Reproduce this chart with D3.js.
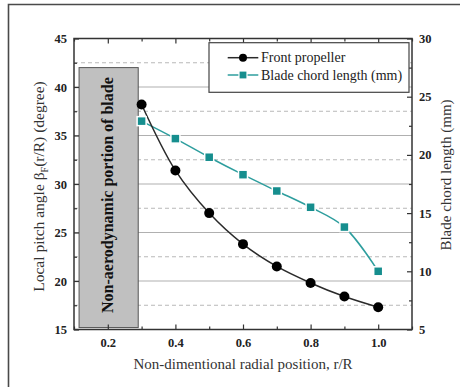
<!DOCTYPE html>
<html>
<head>
<meta charset="utf-8">
<script src="https://cdn.jsdelivr.net/npm/d3@7/dist/d3.min.js"></script>
<style>
  html, body { margin: 0; padding: 0; background: #fff; }
  svg { display: block; }
  text { font-family: "Liberation Serif", "Times New Roman", serif; }
</style>
</head>
<body>
<svg id="chart" width="461" height="387"></svg>
<script>
// Radial stations r/R
const radialPos = [0.3, 0.4, 0.5, 0.6, 0.7, 0.8, 0.9, 1.0];
// Local pitch angle of the front propeller (degree), left axis
const pitchAngle = [38.2, 31.4, 27.0, 23.8, 21.5, 19.8, 18.4, 17.3];
// Blade chord length (mm), right axis
const chordLength = [22.9, 21.4, 19.8, 18.3, 16.9, 15.5, 13.8, 10.0];

const xTicks = [0.2, 0.4, 0.6, 0.8, 1.0];
const leftTicks = [15, 20, 25, 30, 35, 40, 45];
const rightTicks = [5, 10, 15, 20, 25, 30];
// Hub region that carries no aerodynamic section
const hubRegion = { x0: 0.115, x1: 0.29, y0: 15.2, y1: 42.0 };

const seriesNames = ["Front propeller", "Blade chord length (mm)"];

const svg = d3.select("#chart");
const L = 74, R = 412, T = 38.5, B = 329.5;

const x = d3.scaleLinear().domain([0.1, 1.1]).range([L, R]);
const yL = d3.scaleLinear().domain([15, 45]).range([B, T]);
const yR = d3.scaleLinear().domain([5, 30]).range([B, T]);

const teal = "#2e9e9e";
const tealMark = "#168e8e";

// outer page frame
svg.append("path")
  .attr("d", "M8.5,392 V4.5 H460")
  .attr("fill", "none").attr("stroke", "#4a4a4a").attr("stroke-width", 1.6);

// grid: solid at major, dashed at minor left-axis values
const g = svg.append("g");
d3.range(20, 45, 5).forEach(v => {
  g.append("line").attr("x1", L).attr("x2", R).attr("y1", yL(v)).attr("y2", yL(v))
    .attr("stroke", "#b0b0b0").attr("stroke-width", 1.1);
});
d3.range(17.5, 45, 5).forEach(v => {
  g.append("line").attr("x1", L).attr("x2", R).attr("y1", yL(v)).attr("y2", yL(v))
    .attr("stroke", "#b8b8b8").attr("stroke-width", 1).attr("stroke-dasharray", "4,3");
});

// hub region box
svg.append("rect")
  .attr("x", x(hubRegion.x0)).attr("y", yL(hubRegion.y1))
  .attr("width", x(hubRegion.x1) - x(hubRegion.x0))
  .attr("height", yL(hubRegion.y0) - yL(hubRegion.y1))
  .attr("fill", "#c0c0c0").attr("stroke", "#555").attr("stroke-width", 1);
svg.append("text")
  .attr("transform", `translate(${(x(hubRegion.x0) + x(hubRegion.x1)) / 2 + 4},${(yL(hubRegion.y0) + yL(hubRegion.y1)) / 2 - 2.5}) rotate(-90)`)
  .attr("text-anchor", "middle")
  .attr("font-weight", "bold").attr("font-size", "16px").attr("fill", "#111")
  .text("Non-aerodynamic portion of blade");

// axes with inward ticks
function styleAxis(sel) {
  sel.select(".domain").remove();
  sel.selectAll("line").attr("stroke", "#333").attr("stroke-width", 1.2);
  sel.selectAll("text").attr("font-weight", "bold").attr("font-size", "12.5px").attr("fill", "#222")
    .attr("font-family", "'Liberation Serif', serif");
}
const xMinor = d3.range(0.1, 1.11, 0.1).map(v => +v.toFixed(1));
const xMinorOnly = xMinor.filter(v => !xTicks.some(t => Math.abs(t - v) < 1e-9));

svg.append("g").attr("transform", `translate(0,${B})`)
  .call(d3.axisBottom(x).tickValues(xTicks).tickFormat(d3.format(".1f")).tickSizeInner(-5).tickSizeOuter(0).tickPadding(9))
  .call(styleAxis);
svg.append("g").attr("transform", `translate(0,${B})`)
  .call(d3.axisBottom(x).tickValues(xMinorOnly).tickFormat("").tickSizeInner(-3).tickSizeOuter(0))
  .call(styleAxis);
svg.append("g").attr("transform", `translate(0,${T})`)
  .call(d3.axisTop(x).tickValues(xTicks).tickFormat("").tickSizeInner(-5).tickSizeOuter(0))
  .call(styleAxis);
svg.append("g").attr("transform", `translate(0,${T})`)
  .call(d3.axisTop(x).tickValues(xMinorOnly).tickFormat("").tickSizeInner(-3).tickSizeOuter(0))
  .call(styleAxis);

svg.append("g").attr("transform", `translate(${L},0)`)
  .call(d3.axisLeft(yL).tickValues(leftTicks).tickSizeInner(-5).tickSizeOuter(0).tickPadding(7))
  .call(styleAxis);
svg.append("g").attr("transform", `translate(${L},0)`)
  .call(d3.axisLeft(yL).tickValues(d3.range(17.5, 45, 5)).tickFormat("").tickSizeInner(-3).tickSizeOuter(0))
  .call(styleAxis);
svg.append("g").attr("transform", `translate(${R},0)`)
  .call(d3.axisRight(yR).tickValues(rightTicks).tickSizeInner(-5).tickSizeOuter(0).tickPadding(7))
  .call(styleAxis);
svg.append("g").attr("transform", `translate(${R},0)`)
  .call(d3.axisRight(yR).tickValues(d3.range(7.5, 30, 5)).tickFormat("").tickSizeInner(-3).tickSizeOuter(0))
  .call(styleAxis);

// plot frame
svg.append("rect").attr("x", L).attr("y", T).attr("width", R - L).attr("height", B - T)
  .attr("fill", "none").attr("stroke", "#333").attr("stroke-width", 1.5);

// series
const pitchData = radialPos.map((r, i) => [r, pitchAngle[i]]);
const chordData = radialPos.map((r, i) => [r, chordLength[i]]);

svg.append("path").datum(chordData)
  .attr("d", d3.line().x(d => x(d[0])).y(d => yR(d[1])).curve(d3.curveCatmullRom.alpha(0.5)))
  .attr("fill", "none").attr("stroke", teal).attr("stroke-width", 1.5);
svg.append("path").datum(pitchData)
  .attr("d", d3.line().x(d => x(d[0])).y(d => yL(d[1])).curve(d3.curveCatmullRom.alpha(0.5)))
  .attr("fill", "none").attr("stroke", "#2a2a2a").attr("stroke-width", 1.5);

svg.append("g").selectAll("rect").data(chordData).join("rect")
  .attr("x", d => x(d[0]) - 4.5).attr("y", d => yR(d[1]) - 4.5)
  .attr("width", 9).attr("height", 9)
  .attr("fill", tealMark).attr("stroke", "#fff").attr("stroke-width", 1.5);
svg.append("g").selectAll("circle").data(pitchData).join("circle")
  .attr("cx", d => x(d[0])).attr("cy", d => yL(d[1])).attr("r", 5)
  .attr("fill", "#000");

// legend
const lg = svg.append("g");
lg.append("rect").attr("x", 209).attr("y", 42.7).attr("width", 200).attr("height", 49.6)
  .attr("fill", "#fff").attr("stroke", "#444").attr("stroke-width", 1.2);
const rows = [
  { name: seriesNames[0], y: 57.7, color: "#2a2a2a" },
  { name: seriesNames[1], y: 75, color: teal }
];
rows.forEach((row, i) => {
  lg.append("line").attr("x1", 227.7).attr("x2", 258.3).attr("y1", row.y).attr("y2", row.y)
    .attr("stroke", row.color).attr("stroke-width", 1.5);
  if (i === 0) {
    lg.append("circle").attr("cx", 243).attr("cy", row.y).attr("r", 4).attr("fill", "#000");
  } else {
    lg.append("rect").attr("x", 243 - 4).attr("y", row.y - 4).attr("width", 8).attr("height", 8)
      .attr("fill", tealMark).attr("stroke", "#fff").attr("stroke-width", 1.2);
  }
  lg.append("text").attr("x", 261).attr("y", row.y + 4.5)
    .attr("font-size", "14px").attr("fill", "#222").text(row.name);
});

// axis titles
svg.append("text").attr("x", (L + R) / 2).attr("y", 369)
  .attr("text-anchor", "middle").attr("font-size", "15px").attr("fill", "#333")
  .text("Non-dimentional radial position, r/R");

const yt = svg.append("text")
  .attr("transform", `translate(44,186.5) rotate(-90)`)
  .attr("text-anchor", "middle").attr("font-size", "15.5px").attr("fill", "#333");
yt.append("tspan").text("Local pitch angle β");
yt.append("tspan").attr("font-size", "10px").attr("dy", 4).text("F");
yt.append("tspan").attr("dy", -4).text("(r/R) (degree)");

svg.append("text")
  .attr("transform", `translate(451,175) rotate(-90)`)
  .attr("text-anchor", "middle").attr("font-size", "15px").attr("fill", "#333")
  .text("Blade chord length (mm)");
</script>
</body>
</html>
